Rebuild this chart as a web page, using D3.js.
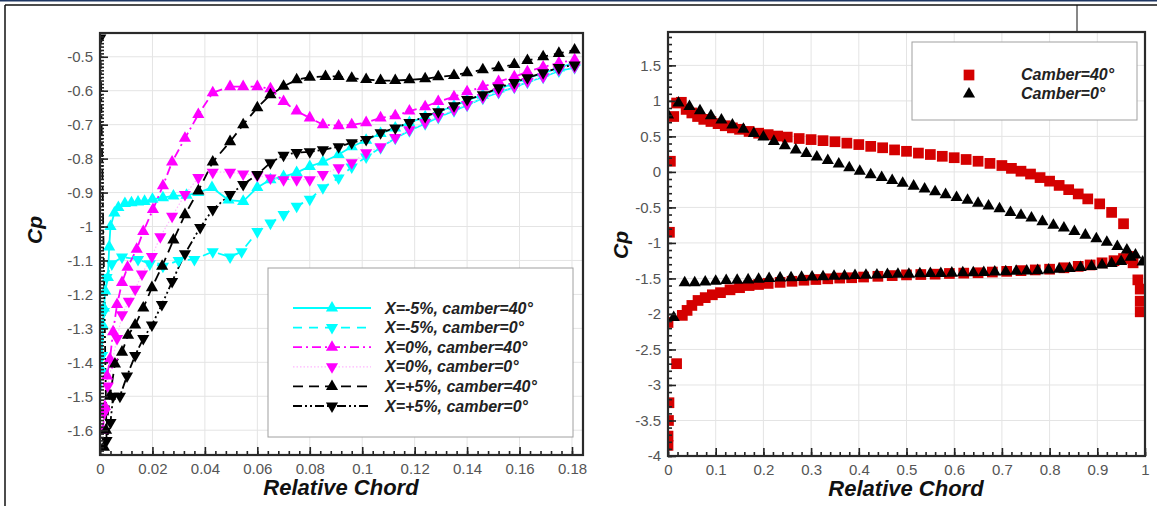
<!DOCTYPE html>
<html>
<head>
<meta charset="utf-8">
<script src="https://cdnjs.cloudflare.com/ajax/libs/d3/7.8.5/d3.min.js"></script>
<style>
body{margin:0;background:#fff;}
text{font-family:"Liberation Sans",Arial,sans-serif;}
</style>
</head>
<body>
<script>
//Left chart data: relative chord and Cp for each case
var legendLeft = ['X=-5%, camber=40°','X=-5%, camber=0°','X=0%, camber=40°','X=0%, camber=0°','X=+5%, camber=40°','X=+5%, camber=0°'];

var m5c40X = [0.0005,0.001,0.0015,0.002,0.003,0.0035,0.004,0.0055,0.007,0.0095,0.012,0.0145,0.017,0.02,0.024,0.028,0.033,0.0375,0.0427,0.049,0.0546,0.06,0.065,0.07,0.075,0.08,0.085,0.091,0.096,0.1015,0.107,0.1126,0.118,0.124,0.129,0.135,0.14,0.146,0.152,0.158,0.163,0.169,0.175,0.181];
var m5c40Cp = [-1.42,-1.29,-1.24,-1.19,-1.15,-1.06,-1.0,-0.96,-0.944,-0.932,-0.93,-0.928,-0.926,-0.92,-0.915,-0.91,-0.908,-0.9,-0.885,-0.922,-0.926,-0.885,-0.862,-0.853,-0.841,-0.823,-0.81,-0.788,-0.765,-0.746,-0.726,-0.71,-0.694,-0.677,-0.662,-0.645,-0.628,-0.613,-0.595,-0.578,-0.563,-0.548,-0.533,-0.517];

var m5c0X = [0.0,0.0008,0.0015,0.0025,0.0045,0.0084,0.0145,0.019,0.024,0.03,0.036,0.043,0.0496,0.054,0.06,0.065,0.07,0.075,0.08,0.085,0.091,0.096,0.1015,0.107,0.1126,0.118,0.124,0.129,0.135,0.14,0.146,0.152,0.158,0.163,0.169,0.175,0.181];
var m5c0Cp = [-1.53,-1.38,-1.25,-1.15,-1.11,-1.09,-1.097,-1.11,-1.117,-1.1,-1.097,-1.074,-1.09,-1.074,-1.015,-0.99,-0.965,-0.94,-0.92,-0.886,-0.857,-0.825,-0.795,-0.768,-0.74,-0.718,-0.697,-0.679,-0.659,-0.643,-0.622,-0.605,-0.59,-0.575,-0.56,-0.542,-0.532];

var z40X = [0.0011,0.0019,0.0027,0.0038,0.005,0.0065,0.0084,0.0105,0.014,0.0165,0.0202,0.024,0.0275,0.0324,0.0375,0.043,0.0496,0.0546,0.06,0.065,0.07,0.075,0.08,0.085,0.091,0.096,0.1015,0.107,0.1126,0.118,0.124,0.129,0.135,0.14,0.146,0.152,0.158,0.163,0.169,0.175,0.181];
var z40Cp = [-1.6,-1.53,-1.44,-1.39,-1.31,-1.23,-1.165,-1.12,-1.067,-1.015,-0.95,-0.88,-0.81,-0.74,-0.67,-0.606,-0.588,-0.588,-0.588,-0.594,-0.632,-0.66,-0.68,-0.7,-0.703,-0.7,-0.694,-0.68,-0.674,-0.66,-0.647,-0.632,-0.618,-0.603,-0.588,-0.573,-0.559,-0.544,-0.53,-0.518,-0.509];

var z0X = [0.0015,0.003,0.0046,0.0065,0.0084,0.011,0.0134,0.016,0.0198,0.023,0.0275,0.0324,0.0375,0.043,0.0496,0.0546,0.06,0.065,0.07,0.075,0.08,0.085,0.091,0.096,0.1015,0.107,0.1126,0.118,0.124,0.129,0.135,0.14,0.146,0.152,0.158,0.163,0.169,0.175,0.181];
var z0Cp = [-1.55,-1.47,-1.4,-1.33,-1.26,-1.22,-1.185,-1.14,-1.088,-1.03,-0.97,-0.906,-0.856,-0.84,-0.84,-0.845,-0.85,-0.857,-0.862,-0.862,-0.862,-0.847,-0.827,-0.812,-0.783,-0.765,-0.738,-0.715,-0.694,-0.676,-0.656,-0.641,-0.62,-0.603,-0.588,-0.573,-0.559,-0.538,-0.53];

var p5c40X = [0.0015,0.0023,0.0038,0.0057,0.0084,0.0107,0.0134,0.0165,0.0198,0.0237,0.028,0.0324,0.0375,0.043,0.0496,0.0546,0.06,0.065,0.07,0.075,0.08,0.086,0.091,0.096,0.1015,0.107,0.1126,0.118,0.124,0.129,0.135,0.14,0.146,0.152,0.158,0.163,0.169,0.175,0.181];
var p5c40Cp = [-1.65,-1.6,-1.5,-1.405,-1.37,-1.32,-1.29,-1.24,-1.18,-1.117,-1.04,-0.965,-0.895,-0.81,-0.75,-0.7,-0.65,-0.612,-0.587,-0.568,-0.56,-0.558,-0.558,-0.563,-0.567,-0.57,-0.57,-0.568,-0.565,-0.559,-0.555,-0.547,-0.538,-0.532,-0.523,-0.511,-0.5,-0.49,-0.48];

var p5c0X = [0.0001,0.0025,0.004,0.005,0.0076,0.0103,0.0134,0.0165,0.0198,0.0236,0.0275,0.0324,0.0382,0.043,0.0496,0.0546,0.06,0.065,0.07,0.075,0.08,0.085,0.091,0.096,0.1015,0.107,0.1126,0.118,0.124,0.129,0.135,0.14,0.146,0.152,0.158,0.163,0.169,0.175,0.181];
var p5c0Cp = [-0.445,-1.63,-1.577,-1.5,-1.5,-1.44,-1.38,-1.33,-1.29,-1.23,-1.162,-1.08,-1.003,-0.95,-0.906,-0.876,-0.847,-0.812,-0.79,-0.782,-0.78,-0.774,-0.765,-0.753,-0.744,-0.724,-0.71,-0.694,-0.676,-0.662,-0.644,-0.626,-0.612,-0.591,-0.576,-0.562,-0.547,-0.532,-0.524];

var leftXTicks = [0,0.02,0.04,0.06,0.08,0.1,0.12,0.14,0.16,0.18];
var leftYTicks = [-1.6,-1.5,-1.4,-1.3,-1.2,-1.1,-1,-0.9,-0.8,-0.7,-0.6,-0.5];

//Right chart data
var legendRight = ['Camber=40°','Camber=0°'];

var cam40X = [0,0,0.001,0.002,0.018,0,0.003,0.005,0.012,0.018,0.028,
  0.038,0.05,0.062,0.075,0.09,0.105,0.12,0.135,0.15,0.17,0.19,0.21,0.23,0.25,0.275,0.3,0.325,0.35,0.375,0.4,0.425,0.45,0.475,0.5,0.525,0.55,0.575,0.6,0.625,0.65,0.675,0.7,0.72,0.74,0.76,0.78,0.8,0.82,0.84,0.86,0.88,0.905,0.93,0.955,
  0.03,0.04,0.05,0.063,0.078,0.093,0.11,0.13,0.15,0.17,0.19,0.21,0.235,0.26,0.285,0.31,0.335,0.36,0.385,0.41,0.44,0.47,0.5,0.53,0.56,0.59,0.62,0.65,0.68,0.71,0.74,0.77,0.8,0.83,0.86,0.885,0.91,0.935,0.955,0.97,
  0.975,0.985,0.99,0.99,0.99];
var cam40Cp = [-3.85,-3.72,-3.5,-3.25,-2.7,-2.12,-0.85,0.15,0.78,0.97,0.98,
  0.88,0.83,0.78,0.74,0.71,0.68,0.65,0.62,0.6,0.57,0.545,0.525,0.505,0.49,0.47,0.455,0.44,0.425,0.405,0.385,0.36,0.34,0.31,0.29,0.265,0.245,0.22,0.2,0.175,0.15,0.12,0.09,0.05,0.01,-0.03,-0.08,-0.13,-0.19,-0.25,-0.31,-0.38,-0.45,-0.57,-0.73,
  -2.02,-1.95,-1.88,-1.81,-1.77,-1.73,-1.7,-1.66,-1.63,-1.6,-1.585,-1.57,-1.555,-1.54,-1.525,-1.515,-1.505,-1.495,-1.49,-1.48,-1.47,-1.46,-1.45,-1.445,-1.44,-1.43,-1.425,-1.42,-1.41,-1.4,-1.39,-1.38,-1.37,-1.35,-1.33,-1.31,-1.28,-1.25,-1.22,-1.19,
  -1.28,-1.52,-1.65,-1.82,-1.97];

var cam0X = [0,0.022,0.045,0.067,0.09,0.112,0.135,0.158,0.18,0.2,0.222,0.245,0.268,0.29,0.312,0.335,0.358,0.38,0.402,0.425,0.448,0.47,0.492,0.515,0.538,0.56,0.582,0.605,0.628,0.65,0.672,0.695,0.718,0.74,0.762,0.785,0.808,0.83,0.852,0.875,0.898,0.92,0.942,0.962,0.98,0.995,
  0.012,0.035,0.056,0.078,0.1,0.122,0.145,0.168,0.19,0.212,0.235,0.258,0.28,0.302,0.325,0.348,0.37,0.392,0.415,0.438,0.46,0.482,0.505,0.528,0.55,0.572,0.595,0.618,0.64,0.662,0.685,0.708,0.73,0.752,0.775,0.798,0.82,0.842,0.865,0.888,0.91,0.93,0.95,0.97];
var cam0Cp = [0.8,0.97,0.92,0.86,0.79,0.73,0.66,0.6,0.54,0.49,0.43,0.37,0.31,0.26,0.21,0.16,0.11,0.06,0.01,-0.04,-0.08,-0.12,-0.16,-0.2,-0.24,-0.28,-0.32,-0.36,-0.4,-0.44,-0.48,-0.52,-0.57,-0.61,-0.65,-0.7,-0.75,-0.79,-0.84,-0.89,-0.94,-0.99,-1.05,-1.1,-1.17,-1.27,
  -2.05,-1.56,-1.56,-1.55,-1.54,-1.53,-1.525,-1.52,-1.51,-1.5,-1.495,-1.49,-1.485,-1.48,-1.475,-1.47,-1.465,-1.46,-1.455,-1.45,-1.445,-1.44,-1.44,-1.435,-1.43,-1.43,-1.425,-1.42,-1.42,-1.415,-1.41,-1.405,-1.4,-1.395,-1.39,-1.38,-1.37,-1.36,-1.345,-1.33,-1.31,-1.29,-1.26,-1.2];

var rightXTicks = [0,0.1,0.2,0.3,0.4,0.5,0.6,0.7,0.8,0.9,1];
var rightYTicks = [-4,-3.5,-3,-2.5,-2,-1.5,-1,-0.5,0,0.5,1,1.5];

//Size Globals
var W = 1157, H = 506;
var svg = d3.select('body').append('svg').attr('width',W).attr('height',H);

//Outer frame of the figure
svg.append('rect').attr('x',0).attr('y',0).attr('width',W).attr('height',1.5).attr('fill','#1f3763');
svg.append('line').attr('x1',5).attr('x2',W).attr('y1',5).attr('y2',5).attr('stroke','#111').attr('stroke-width',1.5);
svg.append('line').attr('x1',5).attr('x2',5).attr('y1',5).attr('y2',H).attr('stroke','#111').attr('stroke-width',1.5);
svg.append('line').attr('x1',1077).attr('x2',1077).attr('y1',5).attr('y2',33).attr('stroke','#111').attr('stroke-width',1);

var fmt = function(d){ return String(+d.toFixed(2)); };

function panel(box, sx, sy, xTicks, yTicks, xMinor, yMinor, clipId){
    var g = svg.append('g');
    //grid
    g.selectAll('.gx').data(xTicks).enter().append('line')
        .attr('x1',sx).attr('x2',sx).attr('y1',box.top).attr('y2',box.bottom)
        .attr('stroke','#e4e4e4').attr('stroke-width',1);
    g.selectAll('.gy').data(yTicks).enter().append('line')
        .attr('y1',sy).attr('y2',sy).attr('x1',box.left).attr('x2',box.right)
        .attr('stroke','#e4e4e4').attr('stroke-width',1);
    svg.append('clipPath').attr('id',clipId).append('rect')
        .attr('x',box.left).attr('y',box.top)
        .attr('width',box.right-box.left).attr('height',box.bottom-box.top);
    var plot = svg.append('g').attr('clip-path','url(#'+clipId+')');
    var axes = svg.append('g');
    //minor ticks
    axes.append('g').attr('transform','translate(0,'+box.bottom+')')
        .call(d3.axisBottom(sx).tickValues(xMinor).tickSize(-4).tickFormat(''));
    axes.append('g').attr('transform','translate('+box.left+',0)')
        .call(d3.axisLeft(sy).tickValues(yMinor).tickSize(-4).tickFormat(''));
    //major ticks with labels
    axes.append('g').attr('class','lab').attr('transform','translate(0,'+box.bottom+')')
        .call(d3.axisBottom(sx).tickValues(xTicks).tickSize(-8).tickPadding(8).tickFormat(fmt));
    axes.append('g').attr('class','lab').attr('transform','translate('+box.left+',0)')
        .call(d3.axisLeft(sy).tickValues(yTicks).tickSize(-8).tickPadding(7).tickFormat(fmt));
    axes.selectAll('.domain').remove();
    axes.selectAll('.tick line').attr('stroke','#222').attr('stroke-width',1.6);
    axes.selectAll('.lab text').attr('fill','#555').style('font-size','15px')
        .style('font-family','"Liberation Sans",Arial,sans-serif');
    return {plot:plot, axes:axes};
}

function frame(box){
    svg.append('rect').attr('x',box.left).attr('y',box.top)
        .attr('width',box.right-box.left).attr('height',box.bottom-box.top)
        .attr('fill','none').attr('stroke','#2a2a2a').attr('stroke-width',2.2);
}

var triUp = d3.symbol().type(d3.symbolTriangle).size(64)();
var square = d3.symbol().type(d3.symbolSquare).size(115)();

function markers(g, xs, ys, sx, sy, path, color, down){
    g.selectAll(null).data(xs).enter().append('path')
        .attr('d',path)
        .attr('fill',color)
        .attr('transform',function(d,i){
            return 'translate('+sx(d)+','+sy(ys[i])+')'+(down?' rotate(180)':'');
        });
}

function curve(g, xs, ys, sx, sy, color, dash, width){
    var line = d3.line().x(function(d){return sx(d[0]);}).y(function(d){return sy(d[1]);});
    g.append('path').datum(d3.zip(xs,ys)).attr('d',line)
        .attr('fill','none').attr('stroke',color).attr('stroke-width',width)
        .attr('stroke-dasharray',dash);
}

//LEFT CHART
var boxL = {left:100, right:583, top:33, bottom:455};
var xL = d3.scaleLinear().domain([0,0.1842]).range([boxL.left,boxL.right]);
var yL = d3.scaleLinear().domain([-1.673,-0.43]).range([boxL.bottom,boxL.top]);
var pL = panel(boxL, xL, yL, leftXTicks, leftYTicks,
    d3.range(0,0.1842,0.004), d3.range(-167,-43,1).map(function(v){return v/100;}), 'clipL');

var leftStyles = [
    {xs:m5c40X, ys:m5c40Cp, color:'#00ffff', dash:null, w:1.8, down:false},
    {xs:m5c0X, ys:m5c0Cp, color:'#00ffff', dash:'9,7', w:1.8, down:true},
    {xs:z40X, ys:z40Cp, color:'#ff00ff', dash:'9,4,2,4', w:1.8, down:false},
    {xs:z0X, ys:z0Cp, color:'#ffb8ff', dash:'1.5,2', w:1.2, down:true},
    {xs:p5c40X, ys:p5c40Cp, color:'#000', dash:'10,6', w:1.8, down:false},
    {xs:p5c0X, ys:p5c0Cp, color:'#000', dash:'9,3,2,3,2,3', w:1.8, down:true}
];
leftStyles.forEach(function(s){ curve(pL.plot, s.xs, s.ys, xL, yL, s.color, s.dash, s.w); });
leftStyles.forEach(function(s){
    markers(pL.plot, s.xs, s.ys, xL, yL, triUp, s.color==='#ffb8ff'?'#ff00ff':s.color, s.down);
});
frame(boxL);

//Left legend
var lg = svg.append('g');
lg.append('rect').attr('x',268).attr('y',268).attr('width',305).attr('height',169)
    .attr('fill','#fff').attr('stroke','#a0a0a0').attr('stroke-width',1);
leftStyles.forEach(function(s,i){
    var cy = 308 + i*19.6;
    lg.append('line').attr('x1',293).attr('x2',371).attr('y1',cy).attr('y2',cy)
        .attr('stroke',s.color).attr('stroke-width',s.w).attr('stroke-dasharray',s.dash);
    lg.append('path').attr('d',triUp).attr('fill',s.color==='#ffb8ff'?'#ff00ff':s.color)
        .attr('transform','translate(332,'+cy+')'+(s.down?' rotate(180)':''));
    lg.append('text').attr('x',385).attr('y',cy+5.5).text(legendLeft[i])
        .style('font-size','16px').style('font-weight','bold').style('font-style','italic').attr('fill','#222');
});

svg.append('text').attr('transform','translate(42,230) rotate(-90)').attr('text-anchor','middle')
    .text('Cp').style('font-size','21px').style('font-weight','bold').style('font-style','italic').attr('fill','#111');
svg.append('text').attr('x',341).attr('y',495).attr('text-anchor','middle')
    .text('Relative Chord').style('font-size','22px').style('font-weight','bold').style('font-style','italic').attr('fill','#111');

//RIGHT CHART
var boxR = {left:668, right:1145, top:32, bottom:456};
var xR = d3.scaleLinear().domain([0,1]).range([boxR.left,boxR.right]);
var yR = d3.scaleLinear().domain([-4,1.97]).range([boxR.bottom,boxR.top]);
var pR = panel(boxR, xR, yR, rightXTicks, rightYTicks,
    d3.range(0,1.001,0.02), d3.range(-40,20,1).map(function(v){return v/10;}), 'clipR');

markers(pR.plot, cam40X, cam40Cp, xR, yR, square, '#d40000', false);
markers(pR.plot, cam0X, cam0Cp, xR, yR, triUp, '#000', false);
frame(boxR);

//Right legend
var rg = svg.append('g');
rg.append('rect').attr('x',912).attr('y',42).attr('width',225).attr('height',78)
    .attr('fill','#fff').attr('stroke','#a0a0a0').attr('stroke-width',1);
rg.append('path').attr('d',square).attr('fill','#d40000').attr('transform','translate(969,75)');
rg.append('path').attr('d',triUp).attr('fill','#000').attr('transform','translate(969,94)');
legendRight.forEach(function(t,i){
    rg.append('text').attr('x',1021).attr('y',80+i*19).text(t)
        .style('font-size','16px').style('font-weight','bold').style('font-style','italic').attr('fill','#222');
});

svg.append('text').attr('transform','translate(628,245) rotate(-90)').attr('text-anchor','middle')
    .text('Cp').style('font-size','21px').style('font-weight','bold').style('font-style','italic').attr('fill','#111');
svg.append('text').attr('x',906).attr('y',496).attr('text-anchor','middle')
    .text('Relative Chord').style('font-size','22px').style('font-weight','bold').style('font-style','italic').attr('fill','#111');
</script>
</body>
</html>
